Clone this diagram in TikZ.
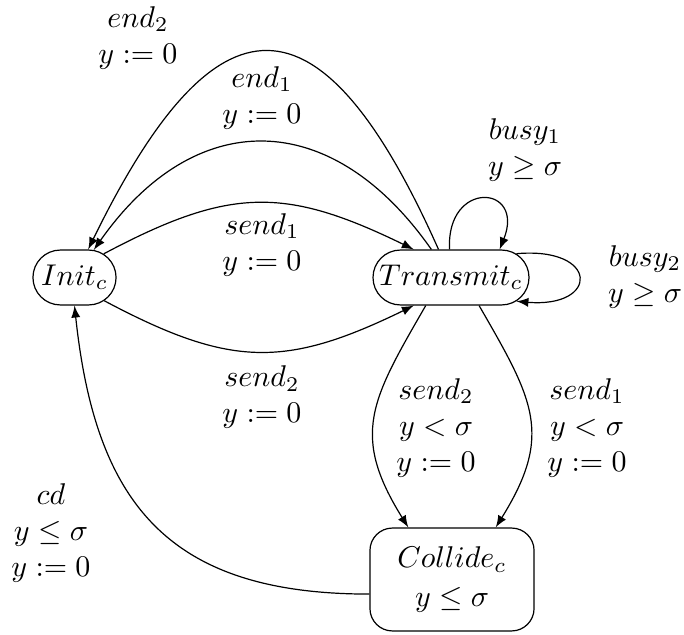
\documentclass[tikz,border=0pt]{standalone}
\usepackage{amsmath}
\usepackage{amssymb}
\usepackage{tikz}
\usetikzlibrary{shapes.misc,arrows}

\begin{document}
\begin{tikzpicture}[x=0.3333pt, y=0.3333pt, >=latex]
    \tikzset{st/.style={rounded rectangle, draw, inner sep=2pt, minimum height=18.3pt},
             lb/.style={align=center, inner sep=0pt}}
    \useasboundingbox (0,0) rectangle (684,634);
    \node[st, minimum width=31.7pt] (init) at (74.5,356.5) {$Init_c$};
    \node[st, minimum width=56pt] (tr) at (451,356.5) {$Transmit_c$};
    \node[draw, rounded corners=7.5pt, minimum width=54.7pt, minimum height=34.3pt, align=center] (col) at (452,54.5) {$Collide_c$\\[1pt]$y \leq \sigma$};
    \draw[->] (init.39) to[out=28, in=154, looseness=1.18] (tr.143);
    \draw[->] (init.-38) to[out=-28, in=-154, looseness=1.18] (tr.-143);
    \draw[->] (tr.125) to[out=125, in=55, looseness=1.33] (init.55);
    \draw[->] (tr.114) to[out=114, in=64, looseness=2.13] (init.64);
    \draw[->] (tr.93) to[out=93, in=68, looseness=3.6] (tr.30);
    \draw[->] (tr.20) to[out=5, in=-5, looseness=4.5] (tr.-20);
    \draw[->] (tr.228) to[out=240, in=122, looseness=1.26] (col.130);
    \draw[->] (tr.-45) to[out=-60, in=58, looseness=1.26] (col.50);
    \draw[->] (col.190) to[out=180, in=-84, looseness=1.24] (init.south);
    \node[lb] (lend2) at (138,596) {$end_2$\\$y := 0$};
    \node[lb] (lend1) at (262,536) {$end_1$\\$y := 0$};
    \node[lb] (lsend1) at (262,389) {$send_1$\\$y := 0$};
    \node[lb] (lsend2) at (262,237) {$send_2$\\$y := 0$};
    \node[lb] (lbusy1) at (525,484) {$busy_1$\\$y \geq \sigma$};
    \node[lb] (lbusy2) at (645,357) {$busy_2$\\$y \geq \sigma$};
    \node[lb] (lcsend2) at (436,206) {$send_2$\\$y < \sigma$\\$y := 0$};
    \node[lb] (lcsend1) at (587,206) {$send_1$\\$y < \sigma$\\$y := 0$};
    \node[lb] (lcd) at (51,101) {$cd$\\$y \leq \sigma$\\$y := 0$};
\end{tikzpicture}
\end{document}
